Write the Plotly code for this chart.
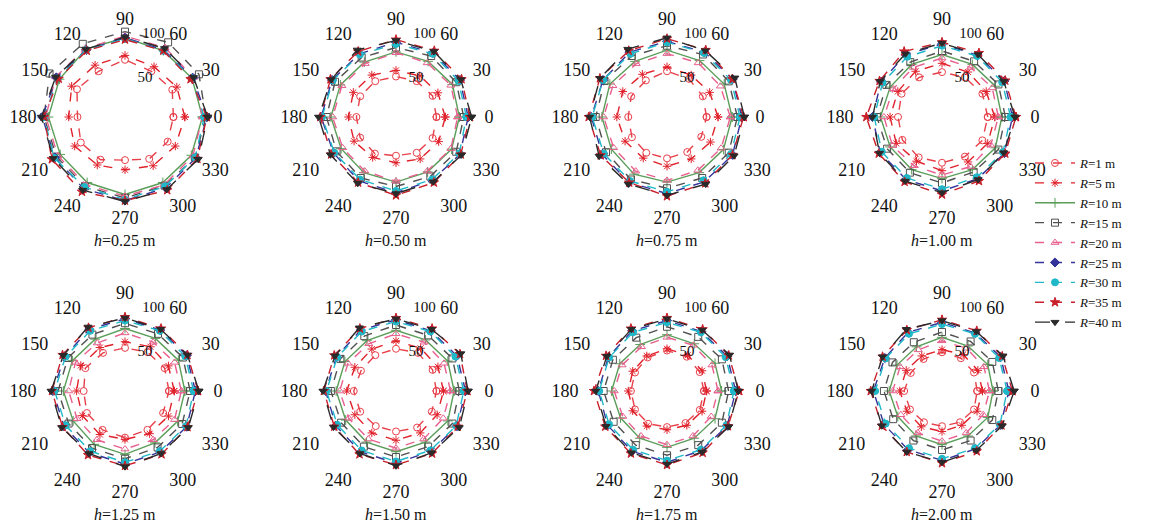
import plotly.graph_objects as go

angles = [0, 30, 60, 90, 120, 150, 180, 210, 240, 270, 300, 330]
R_labels = ["1", "5", "10", "15", "20", "25", "30", "35", "40"]
h_labels = ["0.25", "0.50", "0.75", "1.00", "1.25", "1.50", "1.75", "2.00"]

vals_h025 = [
    [55, 62, 60, 65, 60, 63, 54, 58, 56, 49, 55, 56],
    [68, 68, 66, 70, 68, 70, 64, 66, 63, 60, 64, 66],
    [88, 88, 87, 90, 89, 86, 87, 85, 86, 88, 86, 87],
    [92, 97, 98, 97, 96, 99, 92, 90, 91, 92, 90, 92],
    [88, 90, 91, 92, 90, 91, 90, 88, 89, 90, 89, 89],
    [93, 89, 88, 90, 88, 90, 94, 92, 94, 95, 93, 93],
    [90, 88, 87, 89, 88, 88, 92, 93, 92, 94, 91, 92],
    [93, 86, 87, 88, 87, 87, 92, 96, 98, 95, 96, 95],
    [94, 90, 90, 91, 89, 91, 95, 94, 96, 96, 95, 96],
]
vals_h050 = [
    [46, 48, 47, 46, 47, 47, 45, 47, 48, 44, 47, 48],
    [56, 55, 54, 53, 55, 56, 54, 55, 53, 52, 55, 56],
    [72, 74, 73, 74, 72, 73, 74, 72, 73, 74, 72, 73],
    [77, 79, 80, 79, 78, 80, 79, 78, 80, 79, 78, 79],
    [70, 72, 71, 73, 70, 71, 72, 70, 71, 73, 71, 72],
    [82, 84, 84, 85, 83, 84, 85, 82, 84, 86, 83, 84],
    [80, 82, 83, 83, 82, 83, 84, 81, 82, 84, 82, 83],
    [84, 86, 87, 88, 86, 86, 86, 85, 86, 89, 86, 85],
    [86, 85, 86, 87, 88, 85, 88, 86, 87, 87, 85, 86],
]
vals_h075 = [
    [45, 47, 50, 52, 48, 47, 44, 46, 47, 47, 46, 45],
    [58, 56, 55, 57, 56, 58, 57, 55, 54, 56, 55, 57],
    [74, 75, 74, 76, 73, 75, 74, 73, 75, 74, 73, 74],
    [80, 81, 82, 81, 80, 82, 81, 80, 82, 81, 80, 81],
    [72, 70, 71, 72, 70, 71, 72, 70, 71, 72, 70, 71],
    [85, 86, 85, 86, 85, 84, 86, 85, 86, 87, 85, 86],
    [83, 84, 84, 85, 83, 84, 85, 83, 84, 85, 83, 84],
    [87, 86, 88, 89, 87, 88, 89, 87, 86, 90, 87, 86],
    [88, 89, 87, 90, 89, 88, 88, 89, 88, 89, 88, 88],
]
vals_h100 = [
    [52, 53, 52, 51, 52, 53, 50, 52, 53, 52, 52, 53],
    [60, 58, 59, 61, 60, 58, 59, 60, 58, 61, 59, 60],
    [68, 70, 69, 71, 69, 68, 70, 68, 69, 70, 69, 70],
    [72, 74, 73, 75, 72, 73, 74, 72, 73, 75, 72, 74],
    [64, 66, 65, 67, 65, 64, 66, 65, 64, 66, 65, 64],
    [80, 82, 81, 83, 82, 80, 79, 81, 82, 84, 81, 82],
    [78, 79, 80, 81, 79, 78, 77, 79, 80, 82, 79, 80],
    [84, 83, 84, 85, 86, 82, 86, 83, 85, 88, 84, 83],
    [83, 81, 82, 84, 83, 81, 79, 82, 84, 86, 82, 81],
]
vals_h125 = [
    [50, 52, 51, 49, 50, 52, 47, 50, 51, 53, 51, 50],
    [56, 57, 58, 56, 57, 58, 55, 56, 57, 55, 56, 57],
    [68, 70, 69, 71, 68, 69, 70, 68, 70, 72, 68, 69],
    [74, 76, 75, 77, 74, 75, 76, 74, 75, 77, 74, 75],
    [64, 65, 64, 66, 63, 65, 64, 63, 64, 66, 64, 65],
    [80, 81, 80, 82, 81, 79, 82, 80, 81, 83, 80, 81],
    [78, 79, 79, 80, 79, 78, 80, 78, 79, 81, 79, 80],
    [83, 82, 82, 84, 83, 82, 83, 82, 84, 85, 83, 82],
    [84, 82, 81, 83, 84, 81, 84, 83, 82, 86, 82, 83],
]
vals_h150 = [
    [46, 48, 50, 48, 47, 46, 48, 47, 46, 46, 48, 47],
    [54, 55, 56, 57, 55, 54, 56, 54, 55, 56, 55, 54],
    [66, 68, 67, 69, 66, 67, 68, 66, 67, 69, 67, 68],
    [72, 74, 73, 75, 72, 73, 74, 72, 73, 75, 73, 74],
    [62, 63, 64, 65, 62, 63, 64, 62, 63, 65, 63, 62],
    [79, 80, 79, 81, 80, 78, 80, 79, 80, 82, 79, 80],
    [77, 78, 78, 79, 78, 77, 79, 77, 78, 80, 78, 79],
    [81, 84, 82, 83, 82, 81, 82, 81, 83, 84, 82, 81],
    [82, 85, 81, 82, 83, 80, 83, 82, 82, 85, 81, 83],
]
vals_h175 = [
    [42, 43, 45, 46, 44, 42, 41, 42, 43, 41, 42, 43],
    [45, 46, 47, 48, 46, 45, 44, 45, 46, 44, 45, 46],
    [62, 63, 62, 64, 61, 62, 63, 61, 62, 64, 62, 63],
    [70, 72, 71, 73, 70, 71, 72, 70, 71, 73, 71, 72],
    [58, 59, 60, 61, 58, 59, 60, 58, 59, 61, 59, 58],
    [78, 79, 78, 80, 79, 77, 78, 78, 79, 81, 78, 79],
    [76, 77, 77, 78, 77, 76, 77, 76, 77, 79, 77, 78],
    [82, 81, 81, 83, 82, 80, 83, 81, 82, 84, 81, 80],
    [81, 82, 80, 82, 81, 79, 81, 80, 81, 83, 80, 81],
]
vals_h200 = [
    [40, 42, 43, 44, 42, 41, 43, 42, 41, 40, 41, 42],
    [46, 47, 48, 47, 46, 47, 48, 46, 47, 46, 45, 46],
    [58, 60, 59, 61, 58, 59, 60, 58, 59, 61, 59, 60],
    [64, 66, 65, 67, 64, 65, 66, 64, 65, 67, 65, 66],
    [54, 55, 56, 57, 54, 55, 56, 54, 55, 57, 55, 54],
    [76, 77, 76, 78, 77, 75, 78, 76, 77, 79, 76, 77],
    [74, 75, 75, 76, 75, 74, 76, 74, 75, 77, 75, 76],
    [80, 79, 79, 81, 80, 78, 81, 79, 80, 82, 79, 78],
    [82, 80, 78, 80, 81, 78, 80, 79, 80, 81, 78, 79],
]
panels = [vals_h025, vals_h050, vals_h075, vals_h100,
          vals_h125, vals_h150, vals_h175, vals_h200]

colors = ["#e8404a", "#e0202a", "#5a9e5a", "#505050", "#e8608e",
          "#34349a", "#1fb8c8", "#c81f2a", "#2a2a2a"]
symbols = ["circle-open", "asterisk-open", "cross-thin-open", "square-open",
           "triangle-up-open", "diamond", "circle", "star", "triangle-down"]
dashes = ["dash", "dash", "solid", "dash", "dash", "dash", "dash", "dash", "longdash"]

W, H = 1157, 530
cxs = [125, 396, 667, 942]
cys = [117, 391]
rad = 88
SERIF = "Liberation Serif, Times New Roman, serif"

fig = go.Figure()
layout_polars = {}
annotations = []
for p, data in enumerate(panels):
    row, col = divmod(p, 4)
    cx, cy = cxs[col], cys[row]
    name = "polar" if p == 0 else f"polar{p + 1}"
    layout_polars[name] = dict(
        domain=dict(x=[(cx - rad) / W, (cx + rad) / W],
                    y=[1 - (cy + rad) / H, 1 - (cy - rad) / H]),
        bgcolor="white",
        radialaxis=dict(range=[0, 100], tickvals=[50, 100], angle=84,
                        showline=False, showgrid=False, ticks="",
                        tickfont=dict(family=SERIF, size=15, color="#111"),
                        tickangle=84),
        angularaxis=dict(tickvals=angles, ticktext=[str(a) for a in angles],
                         rotation=0, direction="counterclockwise",
                         showline=False, showgrid=False, ticks="",
                         tickfont=dict(family=SERIF, size=18, color="#111")),
    )
    for k, series in enumerate(data):
        fig.add_trace(go.Scatterpolar(
            r=series + series[:1], theta=angles + angles[:1], subplot=name,
            mode="lines+markers",
            name=f"<i>R</i>={R_labels[k]} m",
            legendgroup=R_labels[k], showlegend=(p == 0),
            line=dict(color=colors[k], width=1.4, dash=dashes[k]),
            marker=dict(symbol=symbols[k], size=7, color=colors[k],
                        line=dict(color=colors[k], width=1)),
        ))
    annotations.append(dict(
        text=f"<i>h</i>={h_labels[p]} m", x=cx / W, y=1 - (cy + 123) / H,
        xref="paper", yref="paper", showarrow=False,
        font=dict(family=SERIF, size=16, color="#111"),
        xanchor="center", yanchor="middle"))

fig.update_layout(
    width=W, height=H,
    margin=dict(l=0, r=0, t=0, b=0),
    paper_bgcolor="white", plot_bgcolor="white",
    annotations=annotations,
    legend=dict(x=1030 / W, y=1 - 243 / H, xanchor="left", yanchor="middle",
                font=dict(family=SERIF, size=13, color="#111"),
                bgcolor="rgba(0,0,0,0)", itemwidth=40, tracegroupgap=0),
    **layout_polars,
)
fig.write_html("out.html", config={"displayModeBar": False},
               post_script="document.body.style.margin='0';document.body.style.overflow='hidden';")
